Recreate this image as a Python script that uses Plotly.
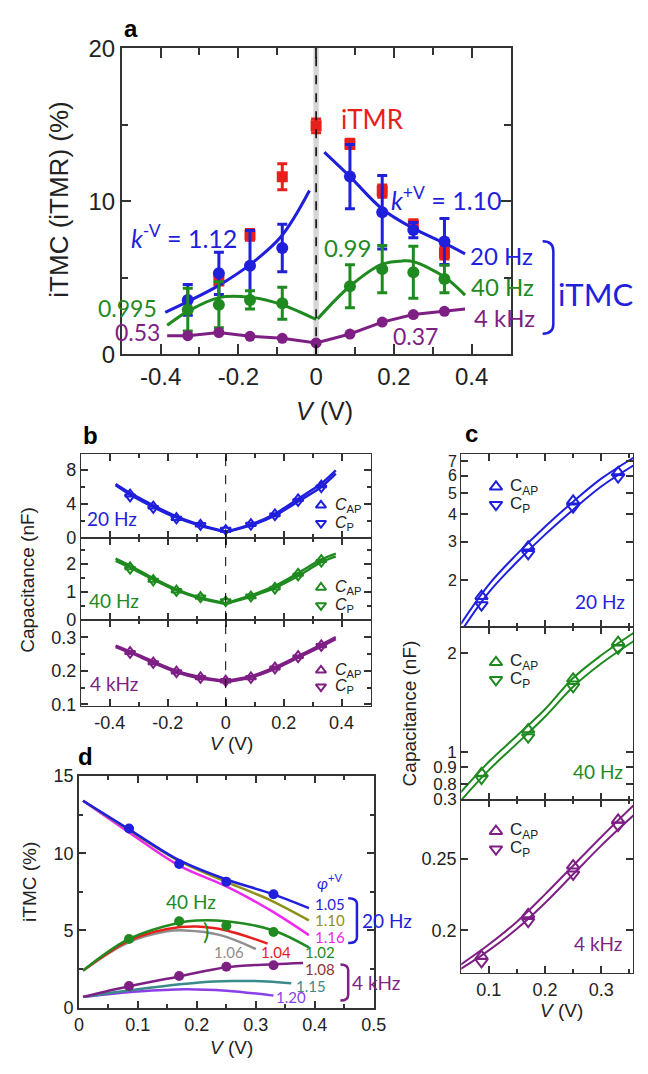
import plotly.graph_objects as go
import math

W, H = 648, 1074

# ---------------- data ----------------
# panel a  (V in volts, values in %)
Va = [-0.33, -0.25, -0.17, -0.087, 0.087, 0.17, 0.25, 0.33]
a20 = [3.55, 5.29, 5.78, 6.94, 11.61, 9.28, 8.11, 7.37]
a20_err = [1.0, 1.38, 2.3, 1.55, 2.1, 2.4, 0.5, 1.5]
a40 = [2.91, 3.23, 3.55, 3.33, 4.44, 5.56, 5.35, 4.92]
a40_err = [1.4, 1.5, 0.6, 1.05, 1.4, 1.55, 1.7, 0.9]
Va4k = [-0.33, -0.25, -0.17, -0.087, 0.0, 0.087, 0.17, 0.25, 0.33]
a4k = [1.21, 1.42, 1.17, 1.04, 0.74, 1.32, 2.10, 2.59, 2.80]
Vtmr = [-0.25, -0.17, -0.087, 0.0, 0.087, 0.17, 0.25, 0.33]
tmr = [4.82, 7.80, 11.6, 14.92, 13.74, 10.66, 8.43, 6.62]
tmr_err = [0.3, 0.35, 0.85, 0.45, 0.3, 0.4, 0.35, 0.4]
a20_fitL_V = [-0.388, -0.33, -0.25, -0.17, -0.09, -0.017]
a20_fitL = [2.74, 3.44, 4.5, 5.85, 7.69, 10.7]
a20_fitR_V = [0.021, 0.087, 0.17, 0.25, 0.33, 0.383]
a20_fitR = [13.2, 11.6, 9.49, 8.22, 7.26, 6.56]
a40_fitL_V = [-0.383, -0.33, -0.25, -0.17, -0.09, 0.0]
a40_fitL = [1.89, 2.8, 3.7, 3.72, 3.25, 2.27]
a40_fitR_V = [0.004, 0.087, 0.17, 0.225, 0.25, 0.33, 0.383]
a40_fitR = [2.31, 4.44, 5.88, 6.1, 6.05, 5.05, 3.86]
a4k_fit_V = [-0.383, -0.33, -0.25, -0.17, -0.087, 0.0, 0.087, 0.17, 0.25, 0.33, 0.383]
a4k_fit = [1.21, 1.21, 1.42, 1.17, 1.04, 0.74, 1.32, 2.10, 2.59, 2.80, 2.95]

# panel b  (capacitance, nF)
Vb = [-0.33, -0.25, -0.17, -0.087, 0.0, 0.087, 0.17, 0.25, 0.33]
b20_AP = [5.15, 3.75, 2.40, 1.62, 1.00, 1.69, 2.84, 4.61, 6.22]
b20_P = [4.85, 3.50, 2.25, 1.50, 0.95, 1.54, 2.64, 4.31, 5.92]
b40_AP = [1.90, 1.45, 1.07, 0.84, 0.68, 0.86, 1.17, 1.67, 2.16]
b40_P = [1.82, 1.40, 1.03, 0.80, 0.66, 0.83, 1.11, 1.58, 2.07]
b4k_AP = [0.257, 0.226, 0.199, 0.182, 0.172, 0.182, 0.211, 0.245, 0.277]
b4k_P = [0.252, 0.222, 0.195, 0.178, 0.169, 0.178, 0.206, 0.239, 0.273]
Vb_fit_neg = [-0.38, -0.33, -0.25, -0.17, -0.087, 0.0]
Vb_fit_pos = [0.0, 0.087, 0.17, 0.25, 0.33, 0.38]
b20_fitAP_neg = [6.35, 5.30, 3.85, 2.55, 1.55, 0.75]
b20_fitAP_pos = [0.75, 1.60, 2.85, 4.60, 6.40, 7.95]
b20_fitP_neg = [6.20, 5.10, 3.65, 2.40, 1.45, 0.70]
b20_fitP_pos = [0.70, 1.50, 2.65, 4.30, 6.00, 7.55]
b40_fitAP_neg = [2.20, 1.95, 1.50, 1.10, 0.80, 0.60]
b40_fitAP_pos = [0.60, 0.88, 1.22, 1.68, 2.17, 2.38]
b40_fitP_neg = [2.12, 1.88, 1.45, 1.06, 0.77, 0.58]
b40_fitP_pos = [0.58, 0.84, 1.15, 1.58, 2.07, 2.28]
b4k_fitAP_neg = [0.275, 0.258, 0.228, 0.200, 0.182, 0.170]
b4k_fitAP_pos = [0.170, 0.184, 0.211, 0.244, 0.278, 0.300]
b4k_fitP_neg = [0.271, 0.254, 0.224, 0.196, 0.178, 0.167]
b4k_fitP_pos = [0.167, 0.180, 0.206, 0.239, 0.272, 0.294]

# panel c
Vc = [0.087, 0.17, 0.25, 0.33]
c20_AP = [1.69, 2.84, 4.61, 6.22]
c20_P = [1.54, 2.64, 4.31, 5.92]
c40_AP = [0.86, 1.17, 1.67, 2.16]
c40_P = [0.83, 1.11, 1.58, 2.07]
c4k_AP = [0.182, 0.211, 0.245, 0.277]
c4k_P = [0.178, 0.206, 0.239, 0.273]
Vc_fit = [0.05, 0.1, 0.15, 0.2, 0.25, 0.3, 0.36]
c20_fitAP = [1.26, 1.91, 2.63, 3.51, 4.57, 5.82, 7.33]
c20_fitP = [1.16, 1.76, 2.42, 3.23, 4.20, 5.36, 6.75]
c40_fitAP = [0.753, 0.933, 1.12, 1.35, 1.68, 1.97, 2.32]
c40_fitP = [0.71, 0.88, 1.06, 1.28, 1.58, 1.86, 2.19]
c4k_fitAP = [0.176, 0.190, 0.206, 0.225, 0.245, 0.265, 0.288]
c4k_fitP = [0.173, 0.186, 0.201, 0.219, 0.239, 0.259, 0.281]

# panel d
Vd = [0.085, 0.17, 0.25, 0.33]
d20 = [11.6, 9.3, 8.15, 7.35]
d40 = [4.45, 5.6, 5.3, 4.9]
d4k = [1.4, 2.05, 2.65, 2.75]
d_top_V = [0.007, 0.085, 0.17, 0.25, 0.325, 0.39]
d_105 = [13.4, 11.55, 9.55, 8.3, 7.4, 6.45]
d_110 = [13.4, 11.5, 9.5, 8.15, 6.95, 5.65]
d_116 = [13.4, 11.35, 9.2, 7.85, 6.3, 4.7]
d_102_V = [0.007, 0.085, 0.17, 0.2, 0.25, 0.33, 0.39]
d_102 = [2.4, 4.45, 5.5, 5.65, 5.6, 5.0, 3.9]
d_104_V = [0.007, 0.085, 0.15, 0.2, 0.25, 0.32]
d_104 = [2.4, 4.35, 5.1, 5.25, 5.0, 4.15]
d_106_V = [0.007, 0.085, 0.15, 0.18, 0.24, 0.3]
d_106 = [2.4, 4.25, 4.95, 5.0, 4.7, 3.8]
d_108_V = [0.007, 0.085, 0.17, 0.25, 0.33, 0.38]
d_108 = [0.7, 1.39, 2.02, 2.62, 2.82, 2.9]
d_115_V = [0.007, 0.1, 0.2, 0.26, 0.32, 0.36]
d_115 = [0.7, 1.2, 1.62, 1.72, 1.7, 1.58]
d_120_V = [0.007, 0.1, 0.18, 0.25, 0.33]
d_120 = [0.7, 1.05, 1.2, 1.1, 0.78]

# ---------------- style ----------------
BLUE = '#1f1fdc'; GREEN = '#1f8a1f'; PURPLE = '#7e1f84'; RED = '#e8201c'
OLIVE = '#8f8f1a'; MAGENTA = '#ee28ee'; GRAY = '#8e8e8e'; TEAL = '#3a8a8c'
VIOLET = '#8a3ee6'; MAROON = '#8e3434'; AXC = '#333333'; TXT = '#222222'
TICKFONT = 'Liberation Sans, Arial, sans-serif'
LABFONT = 'Lato, Open Sans, sans-serif'

# pixel geometry of panels
A_L, A_R, A_T, A_B = 120, 520, 35, 349
B_L, B_R = 78, 376
B_ROWS = [(451, 537.7), (537.7, 621.7), (621.7, 710)]
C_L, C_R = 469.3, 646
C_ROWS = [(451, 629), (629, 806), (806, 984)]
D_L, D_R, D_T, D_B = 76, 379.3, 781.7, 1019.3


def xd(l, r):
    return [l / W, r / W]


def yd(t, b):
    return [1 - b / H, 1 - t / H]


fig = go.Figure()


def sc(x, y, ax, **kw):
    fig.add_trace(go.Scatter(x=x, y=y, xaxis='x' + ax, yaxis='y' + ax,
                             showlegend=False, hoverinfo='skip', **kw))


# ---- panel a ----
sc(Vtmr, tmr, '', mode='markers', marker=dict(symbol='square', size=11, color=RED),
   error_y=dict(type='data', array=tmr_err, color=RED, thickness=3, width=5))
sc(a20_fitL_V, a20_fitL, '', mode='lines', line=dict(color=BLUE, width=3, shape='spline'))
sc(a20_fitR_V, a20_fitR, '', mode='lines', line=dict(color=BLUE, width=3, shape='spline'))
sc(Va, a20, '', mode='markers', marker=dict(size=12, color=BLUE),
   error_y=dict(type='data', array=a20_err, color=BLUE, thickness=3, width=5))
sc(a40_fitL_V, a40_fitL, '', mode='lines', line=dict(color=GREEN, width=3, shape='spline'))
sc(a40_fitR_V, a40_fitR, '', mode='lines', line=dict(color=GREEN, width=3, shape='spline'))
sc(Va, a40, '', mode='markers', marker=dict(size=12, color=GREEN),
   error_y=dict(type='data', array=a40_err, color=GREEN, thickness=3, width=5))
sc(a4k_fit_V, a4k_fit, '', mode='lines', line=dict(color=PURPLE, width=3))
sc(Va4k, a4k, '', mode='markers', marker=dict(size=11, color=PURPLE))

# ---- panel b ----
b_sets = [
    ('2', BLUE, b20_AP, b20_P, b20_fitAP_neg, b20_fitAP_pos, b20_fitP_neg, b20_fitP_pos),
    ('3', GREEN, b40_AP, b40_P, b40_fitAP_neg, b40_fitAP_pos, b40_fitP_neg, b40_fitP_pos),
    ('4', PURPLE, b4k_AP, b4k_P, b4k_fitAP_neg, b4k_fitAP_pos, b4k_fitP_neg, b4k_fitP_pos),
]
for ax, col, ap, p, fan, fap, fpn, fpp in b_sets:
    for fx, fy in ((Vb_fit_neg, fan), (Vb_fit_pos, fap), (Vb_fit_neg, fpn), (Vb_fit_pos, fpp)):
        sc(fx, fy, ax, mode='lines', line=dict(color=col, width=2.5, shape='spline', smoothing=0.8))
    sc(Vb, ap, ax, mode='markers',
       marker=dict(symbol='triangle-up-open', size=9, color=col, line=dict(width=2)))
    sc(Vb, p, ax, mode='markers',
       marker=dict(symbol='triangle-down-open', size=9, color=col, line=dict(width=2)))

# ---- panel c ----
c_sets = [
    ('5', BLUE, c20_AP, c20_P, c20_fitAP, c20_fitP),
    ('6', GREEN, c40_AP, c40_P, c40_fitAP, c40_fitP),
    ('7', PURPLE, c4k_AP, c4k_P, c4k_fitAP, c4k_fitP),
]
for ax, col, ap, p, fap, fp in c_sets:
    sc(Vc_fit, fap, ax, mode='lines', line=dict(color=col, width=2, shape='spline'))
    sc(Vc_fit, fp, ax, mode='lines', line=dict(color=col, width=2, shape='spline'))
    sc(Vc, ap, ax, mode='markers',
       marker=dict(symbol='triangle-up-open', size=11, color=col, line=dict(width=2)))
    sc(Vc, p, ax, mode='markers',
       marker=dict(symbol='triangle-down-open', size=11, color=col, line=dict(width=2)))

# ---- panel d ----
for vx, vy, col in ((d_106_V, d_106, GRAY), (d_104_V, d_104, RED), (d_102_V, d_102, GREEN),
                    (d_120_V, d_120, VIOLET), (d_115_V, d_115, TEAL), (d_108_V, d_108, PURPLE),
                    (d_top_V, d_116, MAGENTA), (d_top_V, d_110, OLIVE), (d_top_V, d_105, BLUE)):
    sc(vx, vy, '8', mode='lines', line=dict(color=col, width=2.5, shape='spline'))
sc(Vd, d20, '8', mode='markers', marker=dict(size=10, color=BLUE))
sc(Vd, d40, '8', mode='markers', marker=dict(size=10, color=GREEN))
sc(Vd, d4k, '8', mode='markers', marker=dict(size=10, color=PURPLE))


# ---- legend keys in b and c (triangles) ----
def ydata(py_, top, bot, r0, r1, log=False):
    if log:
        lo, hi = math.log10(r0), math.log10(r1)
        return 10 ** (lo + (bot - py_) / (bot - top) * (hi - lo))
    return r0 + (bot - py_) / (bot - top) * (r1 - r0)


def xdata(px_, l, r, r0, r1):
    return r0 + (px_ - l) / (r - l) * (r1 - r0)


B_YR = [(0, 9.9), (0, 2.93), (0.095, 0.351)]
C_YR = [(1.22, 7.57, True), (0.715, 2.40, True), (0.17, 0.291, False)]
C_XR = (0.051, 0.3566)
b_leg_y = [(504, 522.3), (588.3, 606.7), (673.3, 690)]
c_leg_y = [(485, 503.3), (665, 683), (838.3, 856.7)]
cols = [BLUE, GREEN, PURPLE]
ann = []
for i in range(3):
    t, b = B_ROWS[i]
    r0, r1 = B_YR[i]
    xx = xdata(325, B_L, B_R, -0.5, 0.5)
    for py_, sym in zip(b_leg_y[i], ('triangle-up-open', 'triangle-down-open')):
        sc([xx], [ydata(py_, t, b, r0, r1)], str(i + 2), mode='markers',
           marker=dict(symbol=sym, size=9, color=cols[i], line=dict(width=2)))
    for py_, lab in zip(b_leg_y[i], ('AP', 'P')):
        ann.append(dict(x=337 / W, y=1 - py_ / H, xref='paper', yref='paper', xanchor='left',
                        yanchor='middle', text='<i>C</i><sub>%s</sub>' % lab, showarrow=False,
                        font=dict(family=TICKFONT, size=16, color=TXT)))
    t, b = C_ROWS[i]
    r0, r1, lg = C_YR[i]
    xx = xdata(505, C_L, C_R, *C_XR)
    for py_, sym in zip(c_leg_y[i], ('triangle-up-open', 'triangle-down-open')):
        sc([xx], [ydata(py_, t, b, r0, r1, lg)], str(i + 5), mode='markers',
           marker=dict(symbol=sym, size=11, color=cols[i], line=dict(width=2)))
    for py_, lab in zip(c_leg_y[i], ('AP', 'P')):
        ann.append(dict(x=517 / W, y=1 - py_ / H, xref='paper', yref='paper', xanchor='left',
                        yanchor='middle', text='C<sub>%s</sub>' % lab, showarrow=False,
                        font=dict(family=TICKFONT, size=17, color=TXT)))


# ---------------- axes ----------------
def axis(domain, rng, anchor, tickvals, ticktext, minor, size, ticklen=8, show=True, typ='linear',
         lw=1.5):
    d = dict(domain=domain, range=rng, anchor=anchor, type=typ, showline=True, linecolor=AXC,
             linewidth=lw, mirror='allticks', ticks='inside', ticklen=ticklen, tickwidth=1.5,
             tickcolor=AXC, showgrid=False, zeroline=False, tickmode='array', tickvals=tickvals,
             ticktext=ticktext, showticklabels=show,
             tickfont=dict(family=TICKFONT, size=size, color=TXT))
    if minor:
        d['minor'] = dict(tickmode='array', tickvals=minor, ticks='inside',
                          ticklen=max(ticklen - 3, 4), tickwidth=1.5, tickcolor=AXC)
    return d


lay = {}
xt = [-0.4, -0.2, 0, 0.2, 0.4]
xtt = ['-0.4', '-0.2', '0', '0.2', '0.4']
xm = [-0.3, -0.1, 0.1, 0.3]
lay['xaxis'] = axis(xd(A_L, A_R), [-0.5, 0.5], 'y', xt, xtt, xm, 24, 10)
lay['yaxis'] = axis(yd(A_T, A_B), [0, 20], 'x', [0, 10, 20], ['0', '10', '20'], [5, 15], 24, 10)

b_ticks = [([0, 4, 8], ['0', '4', '8'], [2, 6]),
           ([0, 1, 2], ['0', '1', '2'], [0.5, 1.5, 2.5]),
           ([0.1, 0.2, 0.3], ['0.1', '0.2', '0.3'], [0.15, 0.25])]
for i in range(3):
    n = str(i + 2)
    t, b = B_ROWS[i]
    lay['xaxis' + n] = axis(xd(B_L, B_R), [-0.5, 0.5], 'y' + n, xt, xtt, xm, 18, 7,
                            show=(i == 2), lw=1.1)
    tv, tt, mn = b_ticks[i]
    lay['yaxis' + n] = axis(yd(t, b), list(B_YR[i]), 'x' + n, tv, tt, mn, 18, 7, lw=1.1)

c_ticks = [([2, 3, 4, 5, 6, 7], ['2', '3', '4', '5', '6', '7'], None, 16),
           ([0.72, 0.8, 0.9, 1, 2], ['0.3', '0.8', '0.9', '1', '2'], None, 17),
           ([0.2, 0.25], ['0.2', '0.25'], None, 18)]
for i in range(3):
    n = str(i + 5)
    t, b = C_ROWS[i]
    lay['xaxis' + n] = axis(xd(C_L, C_R), list(C_XR), 'y' + n, [0.1, 0.2, 0.3], ['0.1', '0.2', '0.3'],
                            [0.15, 0.25, 0.35], 18, 7, show=(i == 2), lw=1.1)
    r0, r1, lg = C_YR[i]
    tv, tt, mn, fs = c_ticks[i]
    rng = [math.log10(r0), math.log10(r1)] if lg else [r0, r1]
    lay['yaxis' + n] = axis(yd(t, b), rng, 'x' + n, tv, tt, mn, fs, 7,
                            typ='log' if lg else 'linear', lw=1.1)

lay['xaxis8'] = axis(xd(D_L, D_R), [0, 0.5], 'y8', [0, 0.1, 0.2, 0.3, 0.4, 0.5],
                     ['0', '0.1', '0.2', '0.3', '0.4', '0.5'], [0.05, 0.15, 0.25, 0.35, 0.45], 18, 7)
lay['yaxis8'] = axis(yd(D_T, D_B), [0, 15], 'x8', [0, 5, 10, 15], ['0', '5', '10', '15'],
                     [2.5, 7.5, 12.5], 18, 7)

# ---------------- shapes ----------------
shapes = [
    dict(type='rect', xref='x', yref='y', x0=-0.007, x1=0.007, y0=0, y1=20,
         fillcolor='#d6d6d6', line=dict(width=0), layer='below'),
    dict(type='line', xref='x', yref='y', x0=0, x1=0, y0=0, y1=20,
         line=dict(color='black', width=1.5, dash='dash')),
]
for i in range(3):
    n = str(i + 2)
    shapes.append(dict(type='line', xref='x' + n, yref='y' + n, x0=0, x1=0,
                       y0=B_YR[i][0], y1=B_YR[i][1], line=dict(color='black', width=1, dash='dash')))


def bracket(l, r, t, b, col, curl=6):
    x0, x1 = l / W, r / W
    yt, yb = 1 - t / H, 1 - b / H
    c = curl / H
    path = ('M %f %f Q %f %f %f %f L %f %f Q %f %f %f %f' %
            (x0, yt, x1, yt, x1, yt - c, x1, yb + c, x1, yb, x0, yb))
    return dict(type='path', xref='paper', yref='paper', path=path, line=dict(color=col, width=2.5))


shapes.append(bracket(553, 564, 233, 328, BLUE, 10))
shapes.append(bracket(353, 362, 907, 953, BLUE, 6))
shapes.append(bracket(345, 353, 975, 1012, PURPLE, 6))


# ---------------- annotations ----------------
def A(x, y, text, col, size, ref='paper', fam=LABFONT, **kw):
    if ref == 'paper':
        d = dict(x=x / W, y=1 - y / H, xref='paper', yref='paper')
    else:
        d = dict(x=x, y=y, xref='x' + ref, yref='y' + ref)
    d.update(text=text, showarrow=False, xanchor='center', yanchor='middle',
             font=dict(family=fam, size=size, color=col))
    d.update(kw)
    ann.append(d)


# panel labels
A(130, 15, '<b>a</b>', 'black', 24, fam=TICKFONT)
A(88, 432, '<b>b</b>', 'black', 24, fam=TICKFONT)
A(480, 430, '<b>c</b>', 'black', 24, fam=TICKFONT)
A(83, 762, '<b>d</b>', 'black', 24, fam=TICKFONT)

# axis titles
A(56, 190, 'iTMC (iTMR) (%)', TXT, 26, fam=TICKFONT, textangle=-90)
A(329, 407, '<i>V</i> (V)', TXT, 25, fam=TICKFONT)
A(23, 580, 'Capacitance (nF)', TXT, 19, fam=TICKFONT, textangle=-90)
A(233, 748, '<i>V</i> (V)', TXT, 19, fam=TICKFONT)
A(417, 717, 'Capacitance (nF)', TXT, 19, fam=TICKFONT, textangle=-90)
A(572, 1022, '<i>V</i> (V)', TXT, 19, fam=TICKFONT)
A(25, 890, 'iTMC (%)', TXT, 19, fam=TICKFONT, textangle=-90)
A(233, 1060, '<i>V</i> (V)', TXT, 19, fam=TICKFONT)

# panel a labels (data coordinates)
A(0.146, 15.34, 'iTMR', RED, 26, ref='')
A(-0.339, 7.72, '<i>k</i><sup>-V</sup> = 1.12', BLUE, 25, ref='')
A(0.336, 10.16, '<i>k</i><sup>+V</sup> = 1.10', BLUE, 25, ref='')
A(0.081, 6.98, '0.99', GREEN, 24, ref='')
A(-0.484, 3.05, '0.995', GREEN, 23, ref='')
A(-0.459, 1.42, '0.53', PURPLE, 23, ref='')
A(0.256, 1.16, '0.37', PURPLE, 23, ref='')
A(0.476, 6.46, '20 Hz', BLUE, 24, ref='')
A(0.479, 4.44, '40 Hz', GREEN, 24, ref='')
A(0.484, 2.43, '4 kHz', PURPLE, 24, ref='')
A(607, 287, 'iTMC', BLUE, 31)

# panel b/c frequency labels
A(110, 518, '20 Hz', BLUE, 19)
A(112, 602, '40 Hz', GREEN, 19)
A(112, 687, '4 kHz', PURPLE, 19)
A(612, 603, '20 Hz', BLUE, 19)
A(610, 777, '40 Hz', GREEN, 19)
A(610, 953, '4 kHz', PURPLE, 19)

# panel d labels
A(0.425, 8.15, '<i>φ</i><sup>+V</sup>', BLUE, 16, ref='8')
A(0.425, 6.74, '1.05', BLUE, 15, ref='8')
A(0.425, 5.67, '1.10', OLIVE, 15, ref='8')
A(0.425, 4.58, '1.16', MAGENTA, 15, ref='8')
A(0.408, 3.59, '1.02', GREEN, 15, ref='8')
A(0.335, 3.59, '1.04', RED, 15, ref='8')
A(0.255, 3.63, '1.06', GRAY, 15, ref='8')
A(0.408, 2.48, '1.08', MAROON, 15, ref='8')
A(0.393, 1.43, '1.15', TEAL, 15, ref='8')
A(0.36, 0.69, '1.20', VIOLET, 15, ref='8')
A(393, 930, '20 Hz', BLUE, 19)
A(382, 993, '4 kHz', PURPLE, 19)
A(0.19, 6.85, '40 Hz', GREEN, 19, ref='8')
A(0.216, 5.0, ')', GREEN, 24, ref='8')

lay.update(width=W, height=H, margin=dict(l=0, r=0, t=0, b=0), autosize=False,
           paper_bgcolor='white', plot_bgcolor='white', showlegend=False,
           shapes=shapes, annotations=ann)
fig.update_layout(**lay)
fig.write_html('out.html', config={'displayModeBar': False},
               post_script="document.body.style.margin='0px';document.body.style.padding='0px';"
                           "document.body.style.overflow='hidden';")
